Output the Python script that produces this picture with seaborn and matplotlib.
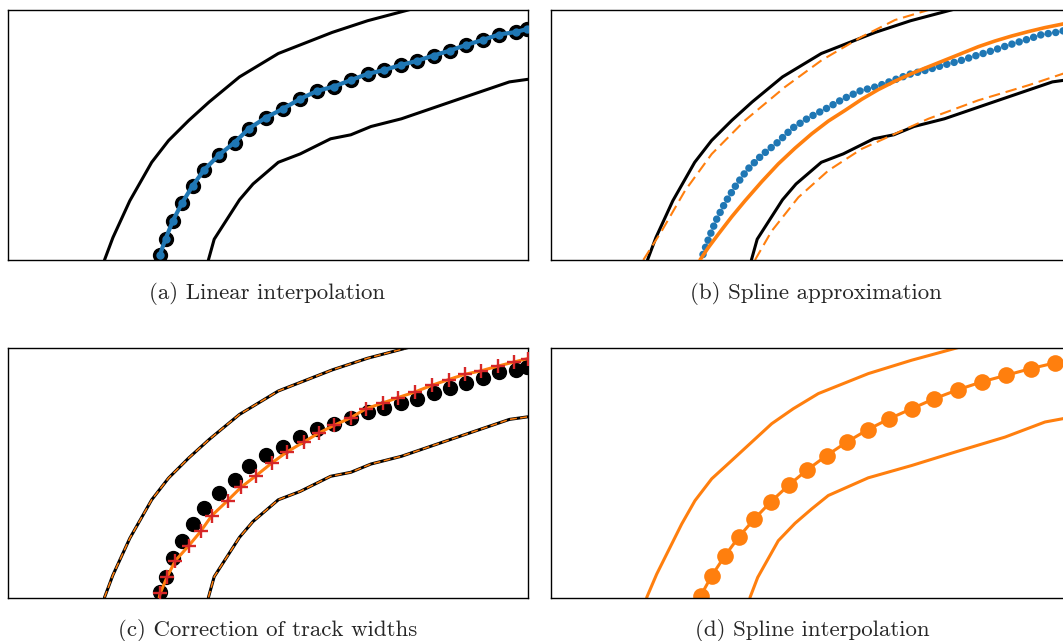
import matplotlib
matplotlib.use("Agg")
import matplotlib.pyplot as plt
import seaborn as sns
import numpy as np

# ---------------- data (pixel-like data units: x 0..520, y 0..250) ----------------
outer_x = [96.5, 104.9, 121.8, 143.7, 160.6, 180.8, 201.1, 231.5, 270.3, 324.2, 359.7, 400.2, 430.5]
outer_y = [0.0, 22.4, 59.2, 97.7, 119.5, 139.6, 158.0, 183.1, 206.5, 227.6, 239.3, 250.0, 258.4]

inner_x = [200.4, 206.2, 231.5, 245.0, 270.3, 292.2, 322.6, 342.8, 363.0, 393.4, 447.4, 501.4, 520.0, 538.0]
inner_y = [0.0, 20.8, 60.2, 76.0, 97.7, 106.1, 121.2, 125.2, 133.5, 141.2, 159.7, 178.1, 180.7, 182.0]

center_x = [152, 157.5, 165, 174, 184.5, 196, 211, 226.5, 241, 258, 274.5, 292, 309, 326, 343,
            359.5, 376, 393, 408.5, 425.5, 442, 458, 474.5, 491, 508, 519, 530]
center_y = [5.5, 21, 39.5, 57, 74, 90, 105, 117.5, 131.5, 142.5, 151, 161, 169, 173.5, 180,
            186, 190, 195, 199, 204.5, 209.5, 215, 220, 225.5, 228, 231, 233.5]

spline_x = [149.0, 157.3, 167.3, 180.7, 194.0, 210.7, 227.3, 244.0, 260.7, 277.3, 294.0, 310.7,
            327.3, 344.0, 360.7, 377.3, 394.0, 410.7, 427.3, 444.0, 460.7, 477.3, 494.0, 512.3, 530.0]
spline_y = [0.0, 12.4, 25.8, 43.2, 59.2, 78.3, 96.1, 111.8, 126.2, 138.9, 149.6, 160.7,
            170.4, 178.8, 186.5, 193.2, 199.9, 206.6, 213.3, 219.0, 224.0, 228.4, 232.4, 236.1, 239.5]

spl_outer_x = [92.3, 110.7, 134.0, 160.7, 194.0, 234.0, 270.7, 310.7, 344.0, 377.3, 410.7]
spl_outer_y = [0.0, 29.0, 69.3, 106.0, 139.6, 173.0, 199.8, 223.2, 240.0, 250.0, 258.0]

spl_inner_x = [204.0, 220.7, 247.3, 277.3, 310.7, 344.0, 377.3, 427.3, 477.3, 512.3, 530.0]
spl_inner_y = [0.0, 29.0, 62.6, 89.4, 111.1, 126.2, 141.2, 159.7, 174.7, 186.4, 190.0]

corr_x = [151.2, 152.2, 158.9, 167.3, 180.8, 192.7, 203.8, 219.6, 233.1, 248.3, 263.5, 278.7, 295.6,
          310.7, 325.9, 342.8, 358.0, 374.8, 390.0, 406.9, 423.8, 440.6, 456.8, 472.7, 489.6,
          506.4, 520.0]
corr_y = [0.0, 4.3, 20.1, 36.8, 51.8, 66.2, 81.9, 96.9, 110.3, 122.0, 134.3, 145.4, 155.4,
          164.4, 172.1, 179.8, 188.8, 194.5, 199.9, 205.5, 212.2, 217.9, 223.2, 226.6, 231.3,
          235.6, 239.0]

d_outer_x = [95.7, 105.7, 130.7, 144.0, 160.7, 180.7, 220.7, 242.3, 267.3, 317.3, 360.7, 407.3, 440.0]
d_outer_y = [0.0, 23.4, 73.5, 96.9, 118.7, 137.0, 173.8, 188.8, 203.9, 223.9, 237.3, 250.0, 258.0]

d_inner_x = [199.0, 206.7, 227.3, 244.0, 260.7, 277.3, 317.3, 360.7, 404.0, 454.0, 494.0, 512.3, 530.0]
d_inner_y = [0.0, 20.1, 56.8, 74.2, 88.6, 102.0, 119.7, 132.0, 145.4, 160.4, 175.5, 178.9, 181.5]

d_center_x = [149.7, 160.7, 174.0, 188.0, 203.3, 220.0, 238.0, 256.3, 275.7, 295.7, 316.7, 338.3,
              360.7, 383.3, 407.3, 430.7, 455.0, 479.7, 504.0, 528.0]
d_center_y = [1.7, 21.7, 41.8, 60.8, 78.5, 95.9, 112.6, 127.7, 142.0, 155.4, 167.8, 178.8,
              188.8, 198.8, 207.9, 215.6, 222.2, 228.9, 234.6, 240.0]

captions = ["(a) Linear interpolation", "(b) Spline approximation",
            "(c) Correction of track widths", "(d) Spline interpolation"]

BLUE = "#1f77b4"
ORANGE = "#ff7f0e"
RED = "#d62728"

# ---------------- figure ----------------
sns.set_theme(style="white")
plt.rcParams["font.family"] = ["cmr10", "DejaVu Serif"]

W, H = 1063, 641
fig = plt.figure(figsize=(W / 100, H / 100), dpi=100)

def make_ax(left_px, top_px):
    ax = fig.add_axes([left_px / W, (H - top_px - 250) / H, 520 / W, 250 / H])
    ax.set_xlim(0, 520)
    ax.set_ylim(0, 250)
    ax.set_xticks([])
    ax.set_yticks([])
    for s in ax.spines.values():
        s.set_visible(True)
        s.set_color("black")
        s.set_linewidth(1.0)
    return ax

def line(ax, x, y, **kw):
    sns.lineplot(x=x, y=y, ax=ax, sort=False, estimator=None, legend=False, **kw)

axA = make_ax(8, 10)
axB = make_ax(551, 10)
axC = make_ax(8, 347.5)
axD = make_ax(551, 347.5)

# (a) Linear interpolation
for bx, by in [(outer_x, outer_y), (inner_x, inner_y)]:
    line(axA, bx, by, color="black", linewidth=2.2)
axA.plot(center_x, center_y, "o", color="black", markersize=10, zorder=3)
line(axA, center_x, center_y, color=BLUE, linewidth=3.0, marker="o", markersize=6,
     markeredgewidth=0, zorder=4)

# (b) Spline approximation
for bx, by in [(outer_x, outer_y), (inner_x, inner_y)]:
    line(axB, bx, by, color="black", linewidth=2.2)
for bx, by in [(spl_outer_x, spl_outer_y), (spl_inner_x, spl_inner_y)]:
    line(axB, bx, by, color=ORANGE, linewidth=1.5, linestyle=(0, (5.5, 2.8)))
axB.plot(center_x, center_y, color=BLUE, linewidth=5.4,
         linestyle=(0, (0.01, 1.0)), dash_capstyle="round", solid_capstyle="round", zorder=3)
line(axB, spline_x, spline_y, color=ORANGE, linewidth=2.6, zorder=4)

# (c) Correction of track widths
for bx, by in [(outer_x, outer_y), (inner_x, inner_y)]:
    line(axC, bx, by, color="black", linewidth=2.2)
    line(axC, bx, by, color=ORANGE, linewidth=1.1, linestyle=(0, (4.5, 2.2)))
axC.plot(center_x, center_y, "o", color="black", markersize=10, zorder=3)
line(axC, corr_x, corr_y, color=ORANGE, linewidth=2.2, zorder=4)
axC.plot(corr_x[1:], corr_y[1:], "+", color=RED, markersize=9.5, markeredgewidth=1.7, zorder=5)

# (d) Spline interpolation
for bx, by in [(d_outer_x, d_outer_y), (d_inner_x, d_inner_y)]:
    line(axD, bx, by, color=ORANGE, linewidth=2.2)
line(axD, d_center_x, d_center_y, color=ORANGE, linewidth=2.2, marker="o",
     markersize=12, markeredgewidth=0)

# captions
for (cx, cy), txt in zip([(267, 293), (816, 293), (268, 630), (812, 630)], captions):
    fig.text(cx / W, 1 - cy / H, txt, ha="center", va="center", fontsize=16.5,
             family=["cmr10", "DejaVu Serif"])

fig.savefig("out.png", dpi=100)
